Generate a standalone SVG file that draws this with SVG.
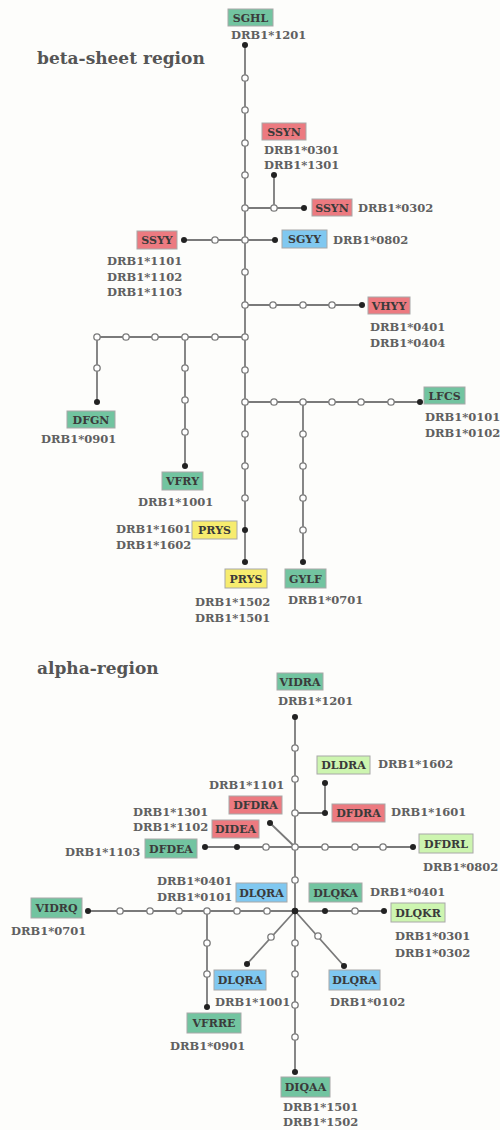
<svg xmlns="http://www.w3.org/2000/svg" width="500" height="1130" viewBox="0 0 500 1130">
<defs>
<style>
.bg{fill:#fdfdfb}
.title{font-family:"DejaVu Serif","Liberation Serif",serif;font-weight:bold;font-size:17px;fill:#555}
.lbl{font-family:"DejaVu Serif","Liberation Serif",serif;font-weight:bold;font-size:11.5px;fill:#606060}
.nt{font-family:"DejaVu Serif","Liberation Serif",serif;font-weight:bold;font-size:11px;fill:#3a3a3a;text-anchor:middle}
.box{stroke:#a8a8a8;stroke-width:1}
.teal{fill:#72c4a0}
.red{fill:#ec7a80}
.blue{fill:#80c8f0}
.yellow{fill:#f7ec6e}
.lgreen{fill:#cdf5b0}
.ln{stroke:#7a7a7a;stroke-width:1.8;fill:none}
.oc{fill:#fff;stroke:#7a7a7a;stroke-width:1.3}
.bd{fill:#222}
</style>
</defs>
<rect class="bg" x="0" y="0" width="500" height="1130"/>
<text class="title" x="37" y="64">beta-sheet region</text>
<text class="title" x="37" y="674">alpha-region</text>

<g id="connectors">
<path class="ln" d="M245,45V562 M245,208H304 M274,175V208 M184,240H275 M245,305H362 M97,337H245 M97,337V402 M185,337V466 M245,402H420 M303,402V562"/>
<path class="ln" d="M295,717V1072 M295,813H325 M325,783V813 M295,847L270,823 M205,847H413 M88,911H384 M207,911V1007 M295,911L247,964 M295,911L344,966"/>
<g class="oc">
<circle cx="245" cy="78" r="3.2"/><circle cx="245" cy="110" r="3.2"/><circle cx="245" cy="143" r="3.2"/><circle cx="245" cy="175" r="3.2"/><circle cx="245" cy="208" r="3.2"/><circle cx="245" cy="240" r="3.2"/><circle cx="245" cy="272" r="3.2"/><circle cx="245" cy="305" r="3.2"/><circle cx="245" cy="337" r="3.2"/><circle cx="245" cy="370" r="3.2"/><circle cx="245" cy="402" r="3.2"/><circle cx="245" cy="434" r="3.2"/><circle cx="245" cy="466" r="3.2"/><circle cx="245" cy="498" r="3.2"/>
<circle cx="274" cy="208" r="3.2"/>
<circle cx="215" cy="240" r="3.2"/>
<circle cx="273" cy="305" r="3.2"/><circle cx="303" cy="305" r="3.2"/><circle cx="332" cy="305" r="3.2"/>
<circle cx="215" cy="337" r="3.2"/><circle cx="185" cy="337" r="3.2"/><circle cx="155" cy="337" r="3.2"/><circle cx="126" cy="337" r="3.2"/><circle cx="97" cy="337" r="3.2"/>
<circle cx="97" cy="368" r="3.2"/>
<circle cx="185" cy="368" r="3.2"/><circle cx="185" cy="400" r="3.2"/><circle cx="185" cy="432" r="3.2"/>
<circle cx="274" cy="402" r="3.2"/><circle cx="303" cy="402" r="3.2"/><circle cx="332" cy="402" r="3.2"/><circle cx="361" cy="402" r="3.2"/><circle cx="391" cy="402" r="3.2"/>
<circle cx="303" cy="434" r="3.2"/><circle cx="303" cy="466" r="3.2"/><circle cx="303" cy="498" r="3.2"/><circle cx="303" cy="530" r="3.2"/>
<circle cx="295" cy="748" r="3.2"/><circle cx="295" cy="779" r="3.2"/><circle cx="295" cy="813" r="3.2"/><circle cx="295" cy="847" r="3.2"/><circle cx="295" cy="880" r="3.2"/><circle cx="295" cy="943" r="3.2"/><circle cx="295" cy="974" r="3.2"/><circle cx="295" cy="1005" r="3.2"/><circle cx="295" cy="1037" r="3.2"/>
<circle cx="266" cy="847" r="3.2"/><circle cx="325" cy="847" r="3.2"/><circle cx="355" cy="847" r="3.2"/><circle cx="383" cy="847" r="3.2"/>
<circle cx="267" cy="911" r="3.2"/><circle cx="237" cy="911" r="3.2"/><circle cx="207" cy="911" r="3.2"/><circle cx="179" cy="911" r="3.2"/><circle cx="150" cy="911" r="3.2"/><circle cx="120" cy="911" r="3.2"/><circle cx="355" cy="911" r="3.2"/>
<circle cx="207" cy="943" r="3.2"/><circle cx="207" cy="974" r="3.2"/>
<circle cx="271" cy="937" r="3.2"/><circle cx="318" cy="936" r="3.2"/>
</g>
<g class="bd">
<circle cx="245" cy="45" r="3"/><circle cx="245" cy="530" r="3"/><circle cx="245" cy="562" r="3"/>
<circle cx="274" cy="175" r="3"/><circle cx="304" cy="208" r="3"/>
<circle cx="184" cy="240" r="3"/><circle cx="275" cy="240" r="3"/>
<circle cx="362" cy="305" r="3"/>
<circle cx="97" cy="402" r="3"/><circle cx="185" cy="466" r="3"/>
<circle cx="420" cy="402" r="3"/><circle cx="303" cy="562" r="3"/>
<circle cx="295" cy="717" r="3"/><circle cx="295" cy="911" r="3.3"/><circle cx="295" cy="1072" r="3"/>
<circle cx="325" cy="813" r="3"/><circle cx="325" cy="783" r="3"/>
<circle cx="270" cy="823" r="3"/>
<circle cx="237" cy="847" r="3"/><circle cx="205" cy="847" r="3"/><circle cx="413" cy="847" r="3"/>
<circle cx="88" cy="911" r="3"/><circle cx="325" cy="911" r="3"/><circle cx="384" cy="911" r="3"/>
<circle cx="207" cy="1007" r="3"/>
<circle cx="247" cy="964" r="3"/><circle cx="344" cy="966" r="3"/>
</g>
</g>

<g id="n-SGHL"><rect class="box teal" x="228" y="9" width="45" height="17"/><text class="nt" x="250.5" y="21.5">SGHL</text><text class="lbl" x="231" y="39">DRB1*1201</text></g>
<g id="n-SSYN-1"><rect class="box red" x="262" y="123" width="44" height="17"/><text class="nt" x="284" y="135.5">SSYN</text><text class="lbl" x="264" y="154">DRB1*0301</text><text class="lbl" x="264" y="169">DRB1*1301</text></g>
<g id="n-SSYN-2"><rect class="box red" x="312" y="199" width="40" height="17"/><text class="nt" x="332" y="211.5">SSYN</text><text class="lbl" x="358" y="212">DRB1*0302</text></g>
<g id="n-SGYY"><rect class="box blue" x="282" y="230" width="45" height="18"/><text class="nt" x="304.5" y="243">SGYY</text><text class="lbl" x="333" y="244">DRB1*0802</text></g>
<g id="n-SSYY"><rect class="box red" x="137" y="231" width="40" height="18"/><text class="nt" x="157" y="244">SSYY</text><text class="lbl" x="107" y="265">DRB1*1101</text><text class="lbl" x="107" y="281">DRB1*1102</text><text class="lbl" x="107" y="296">DRB1*1103</text></g>
<g id="n-VHYY"><rect class="box red" x="368" y="297" width="42" height="17"/><text class="nt" x="389" y="309.5">VHYY</text><text class="lbl" x="370" y="331">DRB1*0401</text><text class="lbl" x="370" y="347">DRB1*0404</text></g>
<g id="n-DFGN"><rect class="box teal" x="67" y="411" width="48" height="17"/><text class="nt" x="91" y="423.5">DFGN</text><text class="lbl" x="41" y="443">DRB1*0901</text></g>
<g id="n-VFRY"><rect class="box teal" x="162" y="472" width="41" height="18"/><text class="nt" x="182.5" y="485">VFRY</text><text class="lbl" x="138" y="506">DRB1*1001</text></g>
<g id="n-LFCS"><rect class="box teal" x="424" y="387" width="41" height="17"/><text class="nt" x="444.5" y="399.5">LFCS</text><text class="lbl" x="425" y="421">DRB1*0101</text><text class="lbl" x="425" y="437">DRB1*0102</text></g>
<g id="n-PRYS-1"><rect class="box yellow" x="192" y="521" width="45" height="18"/><text class="nt" x="214.5" y="534">PRYS</text><text class="lbl" x="116" y="533">DRB1*1601</text><text class="lbl" x="116" y="549">DRB1*1602</text></g>
<g id="n-PRYS-2"><rect class="box yellow" x="225" y="569" width="42" height="19"/><text class="nt" x="246" y="582.5">PRYS</text><text class="lbl" x="195" y="606">DRB1*1502</text><text class="lbl" x="195" y="622">DRB1*1501</text></g>
<g id="n-GYLF"><rect class="box teal" x="285" y="569" width="41" height="19"/><text class="nt" x="305.5" y="582.5">GYLF</text><text class="lbl" x="288" y="604">DRB1*0701</text></g>

<g id="n-VIDRA"><rect class="box teal" x="277" y="673" width="46" height="17"/><text class="nt" x="300" y="685.5">VIDRA</text><text class="lbl" x="278" y="705">DRB1*1201</text></g>
<g id="n-DLDRA"><rect class="box lgreen" x="317" y="756" width="53" height="18"/><text class="nt" x="343.5" y="769">DLDRA</text><text class="lbl" x="378" y="768">DRB1*1602</text></g>
<g id="n-DFDRA-1"><rect class="box red" x="332" y="804" width="53" height="18"/><text class="nt" x="358.5" y="817">DFDRA</text><text class="lbl" x="391" y="816">DRB1*1601</text></g>
<g id="n-DFDRA-2"><rect class="box red" x="229" y="796" width="53" height="18"/><text class="nt" x="255.5" y="809">DFDRA</text><text class="lbl" x="209" y="789">DRB1*1101</text></g>
<g id="n-DIDEA"><rect class="box red" x="212" y="820" width="47" height="18"/><text class="nt" x="235.5" y="833">DIDEA</text><text class="lbl" x="133" y="816">DRB1*1301</text><text class="lbl" x="133" y="831">DRB1*1102</text></g>
<g id="n-DFDEA"><rect class="box teal" x="145" y="839" width="52" height="19"/><text class="nt" x="171" y="852.5">DFDEA</text><text class="lbl" x="65" y="856">DRB1*1103</text></g>
<g id="n-DFDRL"><rect class="box lgreen" x="419" y="834" width="54" height="19"/><text class="nt" x="446" y="847.5">DFDRL</text><text class="lbl" x="423" y="871">DRB1*0802</text></g>
<g id="n-VIDRQ"><rect class="box teal" x="31" y="898" width="51" height="20"/><text class="nt" x="56.5" y="912">VIDRQ</text><text class="lbl" x="11" y="935">DRB1*0701</text></g>
<g id="n-DLQRA-1"><rect class="box blue" x="236" y="883" width="51" height="19"/><text class="nt" x="261.5" y="896.5">DLQRA</text><text class="lbl" x="157" y="885">DRB1*0401</text><text class="lbl" x="157" y="901">DRB1*0101</text></g>
<g id="n-DLQKA"><rect class="box teal" x="309" y="883" width="53" height="19"/><text class="nt" x="335.5" y="896.5">DLQKA</text><text class="lbl" x="370" y="896">DRB1*0401</text></g>
<g id="n-DLQKR"><rect class="box lgreen" x="391" y="903" width="54" height="19"/><text class="nt" x="418" y="916.5">DLQKR</text><text class="lbl" x="395" y="940">DRB1*0301</text><text class="lbl" x="395" y="957">DRB1*0302</text></g>
<g id="n-VFRRE"><rect class="box teal" x="187" y="1013" width="54" height="20"/><text class="nt" x="214" y="1027">VFRRE</text><text class="lbl" x="170" y="1050">DRB1*0901</text></g>
<g id="n-DLQRA-2"><rect class="box blue" x="214" y="970" width="52" height="20"/><text class="nt" x="240" y="984">DLQRA</text><text class="lbl" x="215" y="1006">DRB1*1001</text></g>
<g id="n-DLQRA-3"><rect class="box blue" x="329" y="970" width="51" height="20"/><text class="nt" x="354.5" y="984">DLQRA</text><text class="lbl" x="330" y="1006">DRB1*0102</text></g>
<g id="n-DIQAA"><rect class="box teal" x="281" y="1077" width="49" height="20"/><text class="nt" x="305.5" y="1091">DIQAA</text><text class="lbl" x="283" y="1111">DRB1*1501</text><text class="lbl" x="283" y="1126">DRB1*1502</text></g>
</svg>
